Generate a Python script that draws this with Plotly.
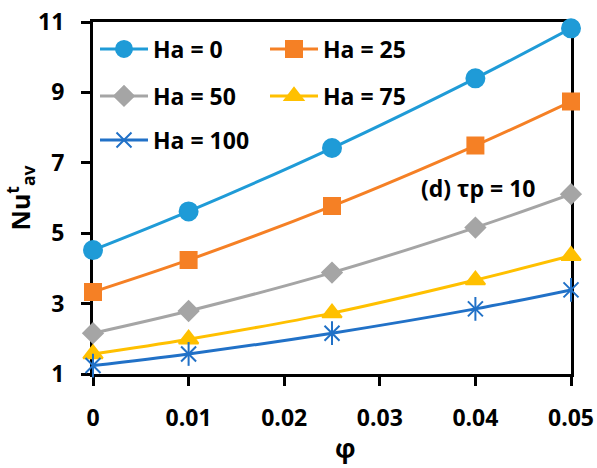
import plotly.graph_objects as go

phi = [0, 0.01, 0.025, 0.04, 0.05]
ha0 = [4.52, 5.62, 7.42, 9.40, 10.82]
ha25 = [3.33, 4.24, 5.77, 7.49, 8.74]
ha50 = [2.16, 2.79, 3.88, 5.16, 6.11]
ha75 = [1.57, 1.99, 2.73, 3.67, 4.36]
ha100 = [1.24, 1.57, 2.16, 2.85, 3.39]

names = ["Ha = 0", "Ha = 25", "Ha = 50", "Ha = 75", "Ha = 100"]
xtickvals = [0, 0.01, 0.02, 0.03, 0.04, 0.05]
xticktext = ["0", "0.01", "0.02", "0.03", "0.04", "0.05"]
ytickvals = [1, 3, 5, 7, 9, 11]

FONT = "Open Sans"
FS = 23

series = [ha0, ha25, ha50, ha75, ha100]
colors = ["#1F9BD7", "#F58025", "#A5A5A5", "#FFC000", "#2171C7"]
symbols = ["circle", "square", "diamond", "triangle-up", "x-thin-open"]
sizes = [18, 16, 15, 17, 15]
legends = ["legend", "legend2", "legend3", "legend4", "legend5"]

fig = go.Figure()
for ys, nm, c, s, sz, lg in zip(series, names, colors, symbols, sizes, legends):
    fig.add_trace(go.Scatter(
        x=phi, y=ys, name=nm, mode="lines+markers",
        line=dict(color=c, width=3, shape="spline"),
        marker=dict(symbol=s, size=sz, color=c, line=dict(color=c, width=2)),
        cliponaxis=False, legend=lg,
    ))
# vertical arm of the asterisk marker
fig.add_trace(go.Scatter(
    x=phi, y=ha100, mode="markers", showlegend=False,
    marker=dict(symbol="line-ns-open", size=17, color=colors[4], line=dict(color=colors[4], width=2)),
    cliponaxis=False, hoverinfo="skip",
))

# plot area px: left 93, right 571, top 22, bottom 374
L, R, T, B = 93, 571, 22, 374
W, H = 597, 468

def px_x(p):
    return (p - L) / (R - L)

def px_y(p):
    return (B - p) / (B - T)

leg_pos = [(95, 49), (265, 49), (95, 96), (265, 96), (95, 140)]
legkw = {}
for lg, (lx, ly) in zip(legends, leg_pos):
    legkw[lg] = dict(
        x=px_x(lx), y=px_y(ly), xanchor="left", yanchor="middle",
        bgcolor="rgba(0,0,0,0)", borderwidth=0,
        font=dict(family=FONT, size=FS, color="black", weight="bold"),
        itemwidth=48,
    )

axis_common = dict(
    showline=True, linecolor="black", linewidth=3, mirror=True,
    ticks="outside", ticklen=9, tickwidth=3, tickcolor="black",
    showgrid=False, zeroline=False, layer="below traces",
    tickfont=dict(family=FONT, size=FS, color="black", weight="bold"),
)

fig.update_layout(
    width=W, height=H,
    margin=dict(l=L, r=W - R, t=T, b=H - B, autoexpand=False),
    paper_bgcolor="white", plot_bgcolor="white",
    showlegend=True,
    xaxis=dict(range=[0, 0.05], tickvals=xtickvals, ticktext=xticktext,
               ticklabelstandoff=12, automargin=False,
               **axis_common),
    yaxis=dict(range=[1, 11], tickvals=ytickvals,
               ticklabelstandoff=12, automargin=False,
               title=dict(text="Nu<sup>t</sup><sub>av</sub>", font=dict(family=FONT, size=25, color="black", weight="bold"), standoff=14),
               **axis_common),
    annotations=[
        dict(text="(d) τp = 10", x=px_x(478), y=px_y(188), xref="paper", yref="paper",
             xanchor="center", yanchor="middle", showarrow=False,
             font=dict(family=FONT, size=FS, color="black", weight="bold")),
        dict(text="φ", x=px_x(345), y=px_y(448), xref="paper", yref="paper",
             xanchor="center", yanchor="middle", showarrow=False,
             font=dict(family=FONT, size=26, color="black", weight="bold")),
    ],
    **legkw,
)

fig.write_html(
    "out.html",
    config={"displayModeBar": False},
    post_script="document.body.style.margin='0';document.body.style.overflow='hidden';",
)
